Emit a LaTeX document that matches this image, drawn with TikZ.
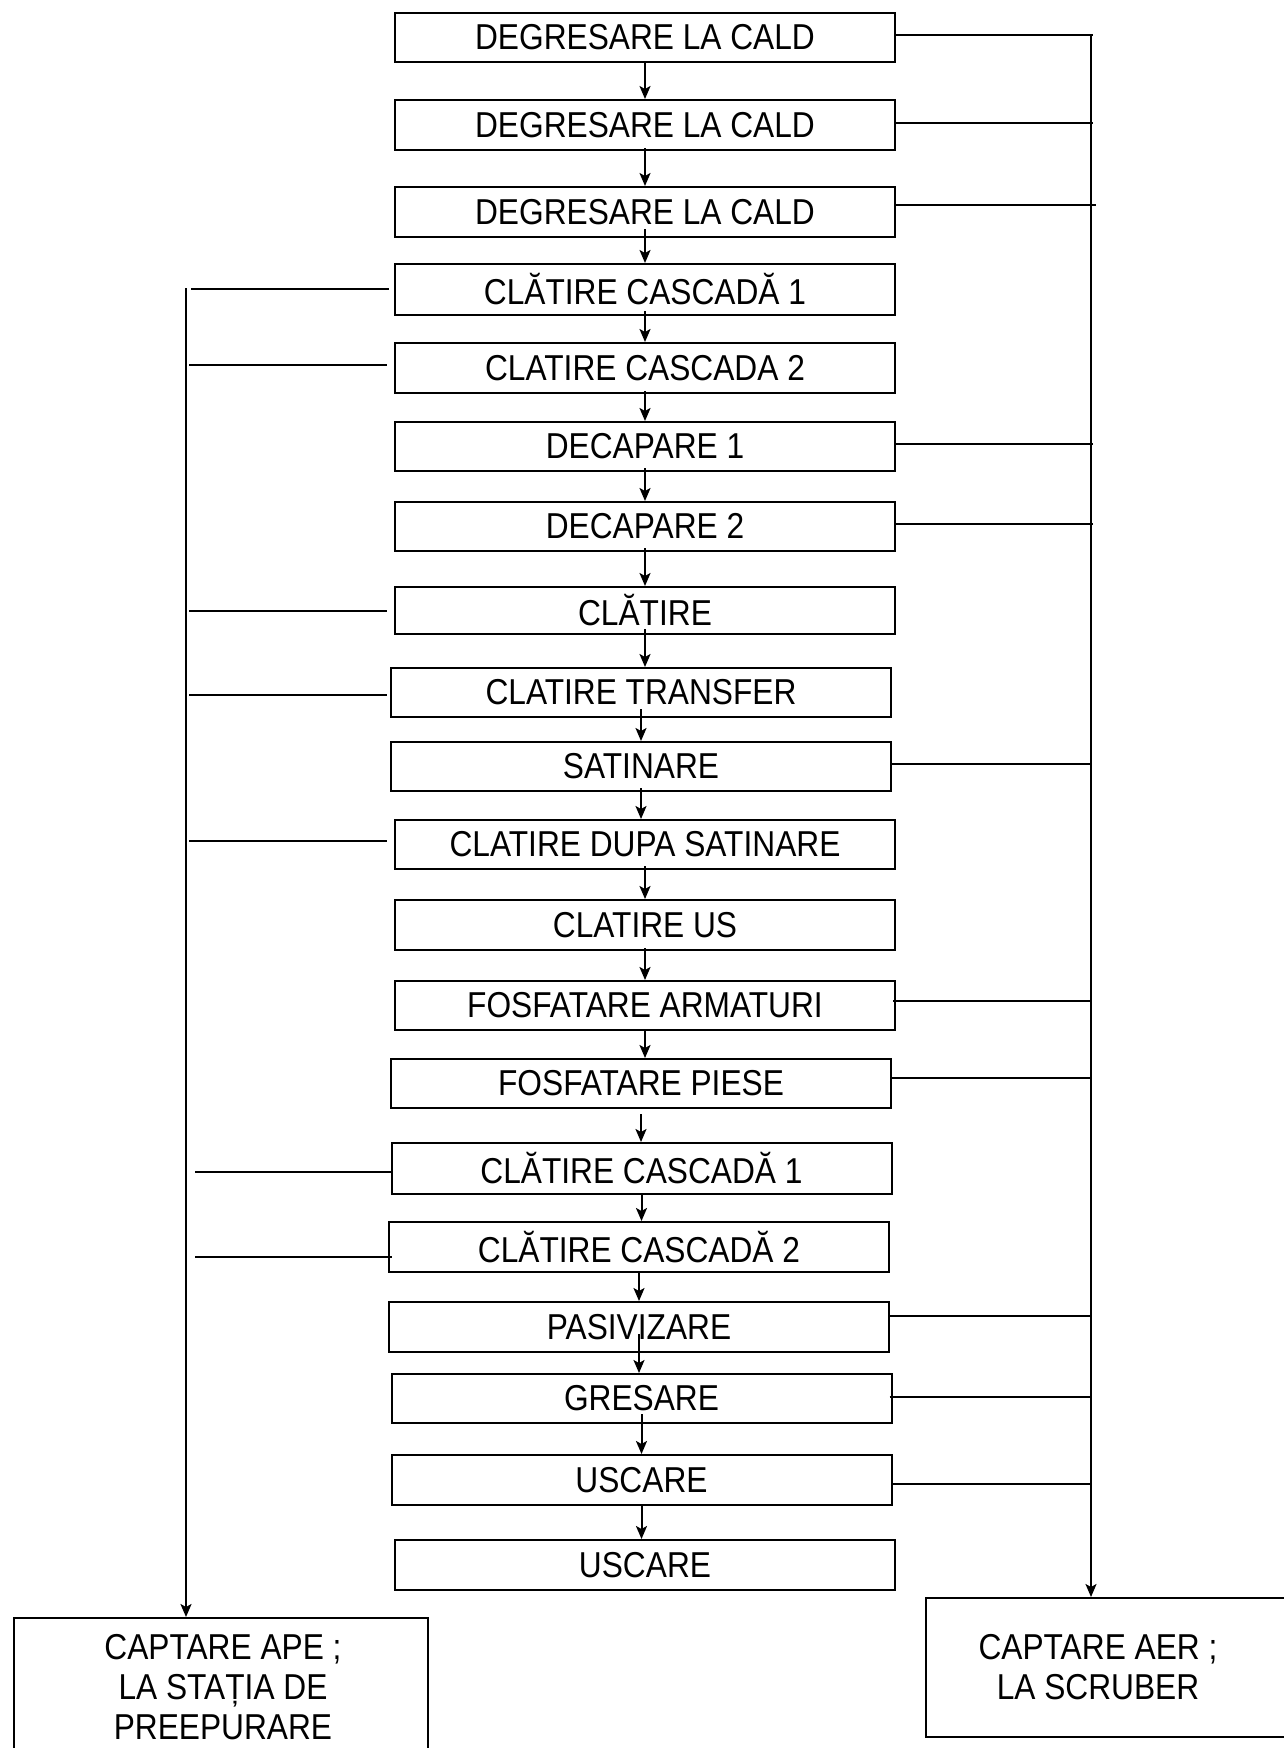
\documentclass[tikz,border=0pt]{standalone}
\usepackage{fontspec}
\setmainfont{Liberation Sans}[FakeStretch=0.88]
\usetikzlibrary{arrows.meta}
\begin{document}
\begin{tikzpicture}[x=1pt,y=-1pt,
  stepbox/.style={draw=black,line width=2pt,minimum width=500pt,minimum height=50pt,
    inner sep=0pt,fill=white,font=\fontsize{36}{40}\selectfont},
  sinkbox/.style={draw=black,line width=2pt,inner sep=0pt},
  sinktext/.style={align=center,inner sep=0pt,font=\fontsize{36}{40}\selectfont},
  arr/.style={line width=2pt,-{Stealth[length=13pt,width=11pt,inset=3pt]}},
  tap/.style={line width=2pt}]
\clip (0,0) rectangle (1284,1748);
\fill[white] (0,0) rectangle (1284,1748);

% process steps
\node[stepbox,minimum height=49pt] (b1)  at (645,37.5)   {DEGRESARE LA CALD};
\node[stepbox]                     (b2)  at (645,125)    {DEGRESARE LA CALD};
\node[stepbox]                     (b3)  at (645,212)    {DEGRESARE LA CALD};
\node[stepbox,minimum height=51pt] (b4)  at (645,289.5)  {CLĂTIRE CASCADĂ 1};
\node[stepbox]                     (b5)  at (645,368)    {CLATIRE CASCADA 2};
\node[stepbox,minimum height=49pt] (b6)  at (645,446.5)  {DECAPARE 1};
\node[stepbox,minimum height=49pt] (b7)  at (645,526.5)  {DECAPARE 2};
\node[stepbox,minimum height=47pt] (b8)  at (645,610.5)  {CLĂTIRE};
\node[stepbox,minimum height=49pt] (b9)  at (641,692.5)  {CLATIRE TRANSFER};
\node[stepbox,minimum height=49pt] (b10) at (641,766.5)  {SATINARE};
\node[stepbox,minimum height=49pt] (b11) at (645,844.5)  {CLATIRE DUPA SATINARE};
\node[stepbox]                     (b12) at (645,925)    {CLATIRE US};
\node[stepbox,minimum height=49pt] (b13) at (645,1005.5) {FOSFATARE ARMATURI};
\node[stepbox,minimum height=49pt] (b14) at (641,1083.5) {FOSFATARE PIESE};
\node[stepbox,minimum height=51pt] (b15) at (641.5,1168.5) {CLĂTIRE CASCADĂ 1};
\node[stepbox]                     (b16) at (639,1247)   {CLĂTIRE CASCADĂ 2};
\node[stepbox]                     (b17) at (639,1327)   {PASIVIZARE};
\node[stepbox,minimum height=49pt] (b18) at (641.5,1398.5) {GRESARE};
\node[stepbox]                     (b19) at (641.5,1480) {USCARE};
\node[stepbox]                     (b20) at (645,1565)   {USCARE};

% collectors
\node[sinkbox,minimum width=414pt,minimum height=200pt,anchor=north west] (ape) at (13,1617) {};
\node[sinktext] (apetxt) at (223,1687) {CAPTARE APE ;\\LA STAȚIA DE\\PREEPURARE};
\node[sinkbox,minimum width=400pt,minimum height=139pt,anchor=north west] (aer) at (925,1597) {};
\node[sinktext] (aertxt) at (1098,1667) {CAPTARE AER ;\\LA SCRUBER};

% flow between steps
\draw[arr] (b1.south) -- (b1.south |- b2.north);
\draw[arr] ([yshift=3pt]b2.south) -- (b2.south |- b3.north);
\draw[arr] ([yshift=9pt]b3.south) -- (b3.south |- b4.north);
\draw[arr] ([yshift=5pt]b4.south) -- (b4.south |- b5.north);
\draw[arr] ([yshift=3pt]b5.south) -- (b5.south |- b6.north);
\draw[arr] ([yshift=4pt]b6.south) -- (b6.south |- b7.north);
\draw[arr] ([yshift=4pt]b7.south) -- (b7.south |- b8.north);
\draw[arr] ([yshift=6pt]b8.south) -- (b8.south |- b9.north);
\draw[arr] ([yshift=9pt]b9.south) -- (b9.south |- b10.north);
\draw[arr] ([yshift=4pt]b10.south) -- (b10.south |- b11.north);
\draw[arr] ([yshift=4pt]b11.south) -- (b11.south |- b12.north);
\draw[arr] ([yshift=3pt]b12.south) -- (b12.south |- b13.north);
\draw[arr] (b13.south) -- (b13.south |- b14.north);
\draw[arr] ([yshift=-5pt]b14.south) -- (b14.south |- b15.north);
\draw[arr] (b15.south) -- (b15.south |- b16.north);
\draw[arr] ([yshift=2pt]b16.south) -- (b16.south |- b17.north);
\draw[arr] ([yshift=19pt]b17.south) -- (b17.south |- b18.north);
\draw[arr] ([yshift=10pt]b18.south) -- (b18.south |- b19.north);
\draw[arr] (b19.south) -- (b19.south |- b20.north);

% air extraction (right)
\coordinate (rtop) at (1091,35);
\coordinate (r1)  at (1093,35);
\coordinate (r2)  at (1093,123);
\coordinate (r3)  at (1096,205);
\coordinate (r6)  at (1093,444);
\coordinate (r7)  at (1093,524);
\coordinate (r10) at (1091,764);
\coordinate (r13) at (1091,1001);
\coordinate (r14) at (1091,1078);
\coordinate (r17) at (1091,1316);
\coordinate (r18) at (1091,1397);
\coordinate (r19) at (1091,1484);
\draw[tap] (b1.east |- r1) -- (r1);
\draw[tap] (b2.east |- r2) -- (r2);
\draw[tap] (b3.east |- r3) -- (r3);
\draw[tap] (b6.east |- r6) -- (r6);
\draw[tap] (b7.east |- r7) -- (r7);
\draw[tap] (b10.east |- r10) -- (r10);
\draw[tap] ([xshift=-3pt]b13.east |- r13) -- (r13);
\draw[tap] (b14.east |- r14) -- (r14);
\draw[tap] (b17.east |- r17) -- (r17);
\draw[tap] ([xshift=-3pt]b18.east |- r18) -- (r18);
\draw[tap] (b19.east |- r19) -- (r19);
\draw[arr] (rtop) -- (rtop |- aer.north);

% water extraction (left)
\coordinate (ltop) at (186,288);
\coordinate (l4)  at (191,289);
\coordinate (l5)  at (189,365);
\coordinate (l8)  at (189,611);
\coordinate (l9)  at (189,695);
\coordinate (l11) at (189,841);
\coordinate (l15) at (195,1172);
\coordinate (l16) at (195,1257);
\draw[tap,shorten >=5pt] (l4) -- (b4.west |- l4);
\draw[tap,shorten >=7pt] (l5) -- (b5.west |- l5);
\draw[tap,shorten >=7pt] (l8) -- (b8.west |- l8);
\draw[tap,shorten >=3pt] (l9) -- (b9.west |- l9);
\draw[tap,shorten >=7pt] (l11) -- (b11.west |- l11);
\draw[tap,shorten >=-2pt] (l15) -- (b15.west |- l15);
\draw[tap,shorten >=-4pt] (l16) -- (b16.west |- l16);
\draw[arr] (ltop) -- (ltop |- ape.north);
\end{tikzpicture}
\end{document}
